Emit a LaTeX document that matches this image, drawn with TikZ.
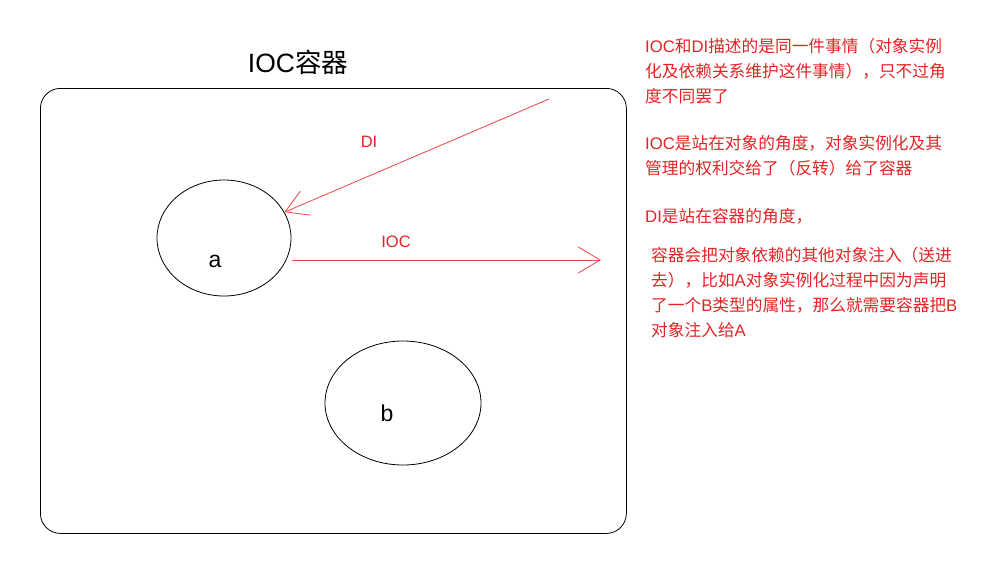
\documentclass[tikz,border=0pt]{standalone}
\usepackage{fontspec}
\setmainfont{Noto Sans CJK SC}
\newfontfamily\lat{Liberation Sans}
\usetikzlibrary{arrows.meta,shapes.geometric}
\definecolor{notered}{RGB}{228,36,36}
\definecolor{arrowred}{RGB}{236,70,70}
\newcommand{\latw}[1]{{\lat #1}}
\tikzset{
  x=1pt,y=-1pt,
  obj/.style={draw=black,ellipse,line width=0.8pt,inner sep=0pt},
  note/.style={text=notered,font=\fontsize{16.7}{25}\selectfont,anchor=base west,inner sep=0pt},
  redarrow/.style={draw=arrowred,line width=0.8pt,-{Straight Barb[length=22pt,width=26pt,line width=0.8pt]}},
  arrowlabel/.style={text=notered,font=\lat\fontsize{16.5}{18}\selectfont},
  objlabel/.style={font=\lat\fontsize{23}{26}\selectfont},
}
\begin{document}
\begin{tikzpicture}
\useasboundingbox[fill=white] (0,0) rectangle (998,560);
\node[draw=black,line width=0.8pt,rounded corners=20pt,minimum width=586pt,minimum height=445pt,anchor=north west] (box) at (40,88) {};
\node[font=\fontsize{26.5}{30}\selectfont,anchor=base] (title) at (298,72) {\latw{IOC}容器};
\node[obj,minimum width=134pt,minimum height=116pt] (a) at (224,238) {};
\node[objlabel,anchor=base] (alabel) at (215,267) {a};
\node[obj,minimum width=156pt,minimum height=124pt] (b) at (403,403) {};
\node[objlabel,anchor=base] (blabel) at (387,421) {b};
\coordinate (distart) at (549,99);
\coordinate (iocstart) at (292,260);
\coordinate (iocend) at (601,260);
\draw[redarrow] (distart) -- (a);
\draw[redarrow] (iocstart) -- (iocend);
\node[arrowlabel,anchor=base] (dilabel) at (369,147) {DI};
\node[arrowlabel,anchor=base] (ioclabel) at (396,247) {IOC};
\node[note] (n1a) at (645,52) {\latw{IOC}和\latw{DI}描述的是同一件事情（对象实例};
\node[note] (n1b) at (645,77) {化及依赖关系维护这件事情），只不过角};
\node[note] (n1c) at (645,102) {度不同罢了};
\node[note] (n2a) at (645,149) {\latw{IOC}是站在对象的角度，对象实例化及其};
\node[note] (n2b) at (645,174) {管理的权利交给了（反转）给了容器};
\node[note] (n3a) at (645,222) {\latw{DI}是站在容器的角度，};
\node[note] (n4a) at (651,261) {容器会把对象依赖的其他对象注入（送进};
\node[note] (n4b) at (651,286) {去），比如\latw{A}对象实例化过程中因为声明};
\node[note] (n4c) at (651,311) {了一个\latw{B}类型的属性，那么就需要容器把\latw{B}};
\node[note] (n4d) at (651,336) {对象注入给\latw{A}};
\end{tikzpicture}
\end{document}
